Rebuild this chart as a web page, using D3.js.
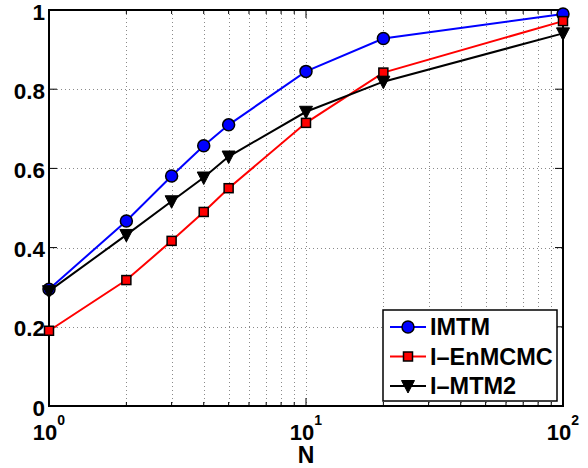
<!DOCTYPE html>
<html>
<head>
<meta charset="utf-8">
<script src="https://cdn.jsdelivr.net/npm/d3@7"></script>
<style>
  html, body { margin: 0; padding: 0; background: #fff; }
  svg { display: block; font-family: "Liberation Sans", Arial, Helvetica, sans-serif; font-weight: bold; }
</style>
</head>
<body>
<svg id="chart" width="588" height="468"></svg>
<script>
const N = [1, 2, 3, 4, 5, 10, 20, 100];
const seriesNames = ["IMTM", "I\u2013EnMCMC", "I\u2013MTM2"];
const imtm    = [0.295, 0.467, 0.581, 0.657, 0.710, 0.845, 0.928, 0.990];
const ienmcmc = [0.190, 0.318, 0.417, 0.490, 0.550, 0.715, 0.842, 0.972];
const imtm2   = [0.290, 0.432, 0.517, 0.577, 0.630, 0.743, 0.819, 0.941];
const yTicks = [0, 0.2, 0.4, 0.6, 0.8, 1];
const yTickLabels = ["0", "0.2", "0.4", "0.6", "0.8", "1"];
const xMajor = [1, 10, 100];
const xMajorExp = ["0", "1", "2"];
const xMinor = [2,3,4,5,6,7,8,9,20,30,40,50,60,70,80,90];
const xLabel = "N";

const W = 588, H = 468;
const m = {left: 49, right: 25, top: 10, bottom: 62};
const svg = d3.select("#chart");
const x = d3.scaleLog().domain([1, 100]).range([m.left, W - m.right]);
const y = d3.scaleLinear().domain([0, 1]).range([H - m.bottom, m.top]);
const x0 = x.range()[0], x1 = x.range()[1], y0 = y.range()[0], y1 = y.range()[1];

// grid
const grid = svg.append("g").attr("stroke", "#8a8a8a").attr("stroke-width", 1).attr("stroke-dasharray", "1,3");
xMajor.concat(xMinor).forEach(v => {
  if (v === 1 || v === 100) return;
  grid.append("line").attr("x1", Math.round(x(v)) + 0.5).attr("x2", Math.round(x(v)) + 0.5).attr("y1", y1).attr("y2", y0);
});
yTicks.forEach(v => {
  if (v === 0 || v === 1) return;
  grid.append("line").attr("x1", x0).attr("x2", x1).attr("y1", Math.round(y(v)) + 0.5).attr("y2", Math.round(y(v)) + 0.5);
});

// ticks (inside)
const tk = svg.append("g").attr("stroke", "#000").attr("stroke-width", 1);
xMajor.forEach(v => {
  tk.append("line").attr("x1", x(v)).attr("x2", x(v)).attr("y1", y0).attr("y2", y0 - 8);
  tk.append("line").attr("x1", x(v)).attr("x2", x(v)).attr("y1", y1).attr("y2", y1 + 8);
});
xMinor.forEach(v => {
  tk.append("line").attr("x1", x(v)).attr("x2", x(v)).attr("y1", y0).attr("y2", y0 - 4);
  tk.append("line").attr("x1", x(v)).attr("x2", x(v)).attr("y1", y1).attr("y2", y1 + 4);
});
yTicks.forEach(v => {
  tk.append("line").attr("x1", x0).attr("x2", x0 + 8).attr("y1", y(v)).attr("y2", y(v));
  tk.append("line").attr("x1", x1).attr("x2", x1 - 8).attr("y1", y(v)).attr("y2", y(v));
});

// box
svg.append("rect").attr("x", x0).attr("y", y1).attr("width", x1 - x0).attr("height", y0 - y1)
  .attr("fill", "none").attr("stroke", "#000").attr("stroke-width", 2);

// y tick labels
yTicks.forEach((v, i) => {
  svg.append("text").attr("x", x0 - 4).attr("y", y(v) + 2).attr("text-anchor", "end")
    .attr("dominant-baseline", "central").attr("font-size", 22.5).text(yTickLabels[i]);
});
// x tick labels
xMajor.forEach((v, i) => {
  const t = svg.append("text").attr("x", x(v)).attr("y", 440).attr("text-anchor", "middle").attr("font-size", 22);
  t.append("tspan").text("10");
  t.append("tspan").attr("dy", -15).attr("font-size", 14).text(xMajorExp[i]);
});
svg.append("text").attr("x", x(10)).attr("y", 463).attr("text-anchor", "middle").attr("font-size", 23).text(xLabel);

// series
const series = [
  {name: seriesNames[0], vals: imtm, color: "#0000ff", marker: "circle"},
  {name: seriesNames[1], vals: ienmcmc, color: "#ff0000", marker: "square"},
  {name: seriesNames[2], vals: imtm2, color: "#000000", marker: "tri"}
];
function drawMarker(g, type, cx, cy, color) {
  if (type === "circle") {
    g.append("circle").attr("cx", cx).attr("cy", cy).attr("r", 6)
      .attr("fill", color).attr("stroke", "#000").attr("stroke-width", 1.5);
  } else if (type === "square") {
    g.append("rect").attr("x", cx - 4.5).attr("y", cy - 4.5).attr("width", 9).attr("height", 9)
      .attr("fill", color).attr("stroke", "#000").attr("stroke-width", 1.5);
  } else {
    g.append("path").attr("d", `M${cx - 6.5},${cy - 5.5}L${cx + 6.5},${cy - 5.5}L${cx},${cy + 7}Z`)
      .attr("fill", "#000").attr("stroke", "#000").attr("stroke-width", 1);
  }
}
const line = d3.line().x((d, i) => x(N[i])).y(d => y(d));
series.forEach(s => {
  const g = svg.append("g");
  g.append("path").attr("d", line(s.vals)).attr("fill", "none").attr("stroke", s.color).attr("stroke-width", 2);
  s.vals.forEach((v, i) => drawMarker(g, s.marker, x(N[i]), y(v), s.color));
});

// legend
const lg = svg.append("g");
lg.append("rect").attr("x", 383).attr("y", 310).attr("width", 174).attr("height", 91)
  .attr("fill", "#fff").attr("stroke", "#000").attr("stroke-width", 1.5);
series.forEach((s, i) => {
  const cy = 327 + i * 29.5;
  lg.append("line").attr("x1", 390).attr("x2", 426).attr("y1", cy).attr("y2", cy).attr("stroke", s.color).attr("stroke-width", 2);
  drawMarker(lg, s.marker, 408, cy, s.color);
  lg.append("text").attr("x", 430).attr("y", cy + 8).attr("font-size", 23.5).text(s.name);
});
</script>
</body>
</html>
